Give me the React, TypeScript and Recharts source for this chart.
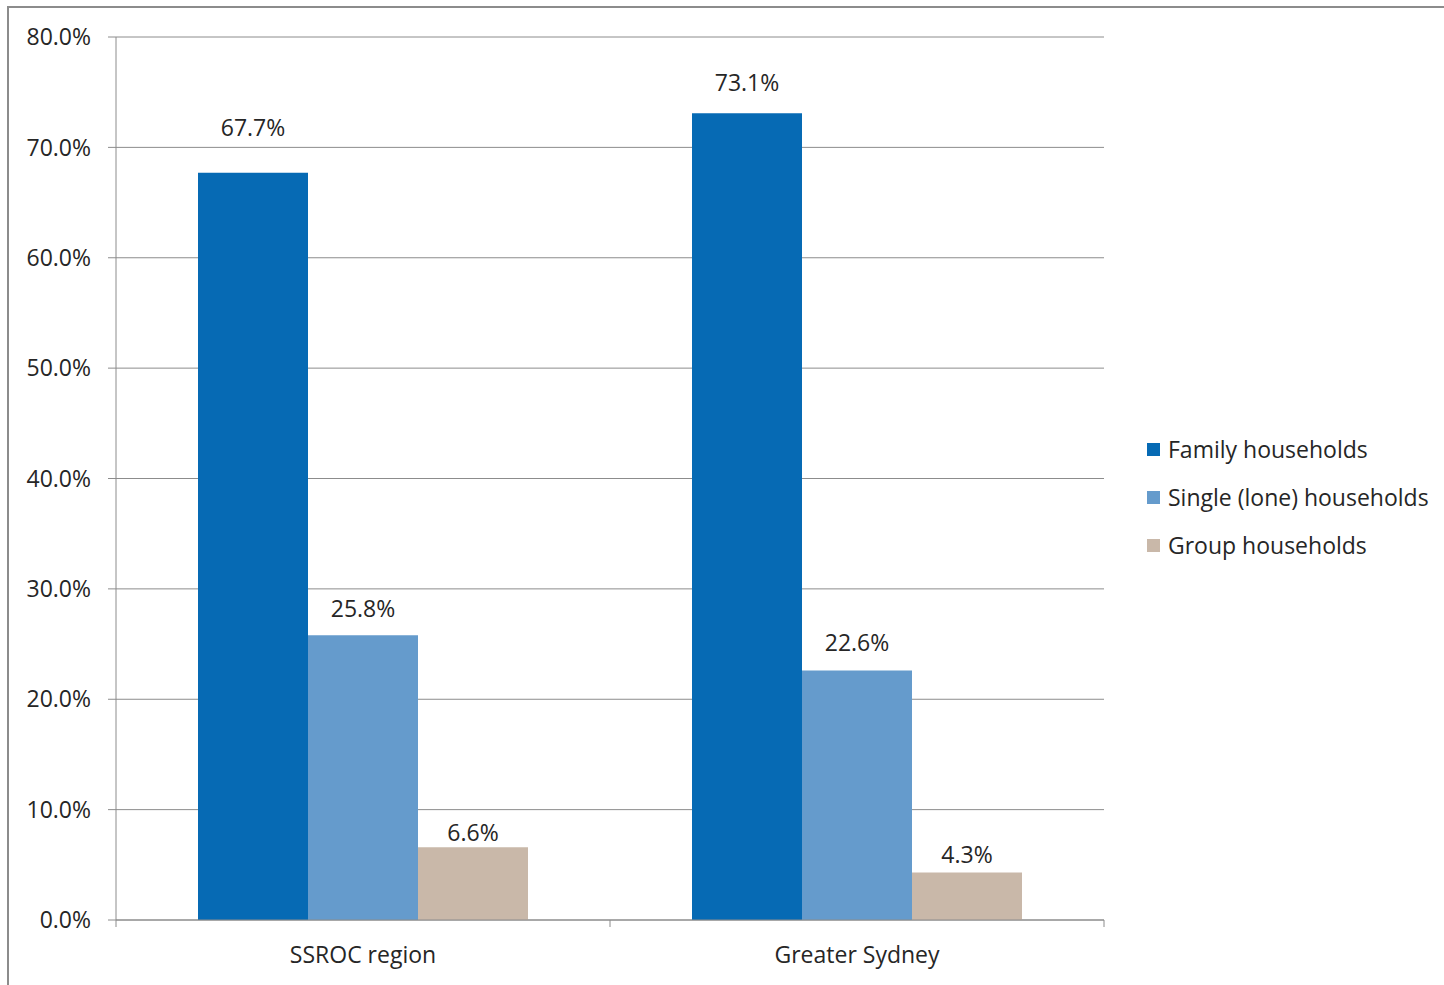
import { BarChart, Bar, XAxis, YAxis, CartesianGrid, LabelList } from "recharts";

// household composition, share of all households (%)
const regions = ["SSROC region", "Greater Sydney"];
const familyShare = [67.7, 73.1];
const singleShare = [25.8, 22.6];
const groupShare = [6.6, 4.3];
const yTicks = [0, 10, 20, 30, 40, 50, 60, 70, 80];

const data = regions.map((region, i) => ({
  region,
  family: familyShare[i],
  single: singleShare[i],
  group: groupShare[i],
}));

const FONT = "'Open Sans', sans-serif";
const TEXT = "#262626";
const RULE = "#8c8c8c";

const CHART_W = 1444;
const CHART_H = 985;
const MARGIN = { top: 37, right: 340, bottom: 0, left: 0 };
const Y_AXIS_W = 116;
const BAND = (CHART_W - MARGIN.right - MARGIN.left - Y_AXIS_W) / regions.length;

const series = [
  { key: "family", name: "Family households", color: "#066ab4", lift: [37, 22] },
  { key: "single", name: "Single (lone) households", color: "#659bcc", lift: [18, 20] },
  { key: "group", name: "Group households", color: "#c9b8a9", lift: [6, 10] },
];

function valueLabel(lift: number[]) {
  return (props: any) => {
    const { x, y, width, value, index } = props;
    return (
      <text
        x={Number(x) + Number(width) / 2}
        y={Number(y) - lift[index]}
        textAnchor="middle"
        fill={TEXT}
        fontSize={23}
        fontFamily={FONT}
      >
        {Number(value).toFixed(1)}%
      </text>
    );
  };
}

// category label plus the Excel-style tick marks on the band edges
function RegionTick(props: any) {
  const { x, y, payload, index } = props;
  const left = x - BAND / 2;
  const right = x + BAND / 2;
  return (
    <g>
      <line x1={left} x2={left} y1={y} y2={y + 7} stroke={RULE} />
      {index === regions.length - 1 && <line x1={right} x2={right} y1={y} y2={y + 7} stroke={RULE} />}
      <text x={x} y={y + 43} textAnchor="middle" fill={TEXT} fontSize={23} fontFamily={FONT}>
        {payload.value}
      </text>
    </g>
  );
}

function LegendBox() {
  return (
    <div style={{ position: "absolute", left: 1147, top: 425, fontFamily: FONT, fontSize: 23, color: TEXT }}>
      {series.map((s) => (
        <div key={s.key} style={{ display: "flex", alignItems: "center", height: 48, whiteSpace: "nowrap" }}>
          <span style={{ width: 13, height: 13, background: s.color, marginRight: 8 }} />
          <span>{s.name}</span>
        </div>
      ))}
    </div>
  );
}

export default function App() {
  return (
    <div style={{ position: "fixed", left: 0, top: 0, width: CHART_W, height: CHART_H, background: "#fff", overflow: "hidden" }}>
      <div
        style={{
          position: "absolute",
          left: 7,
          top: 6,
          width: 1500,
          height: 1100,
          borderTop: `2px solid ${RULE}`,
          borderLeft: `2px solid ${RULE}`,
        }}
      />
      <div style={{ position: "absolute", left: 0, top: 0 }}>
        <BarChart width={CHART_W} height={CHART_H} data={data} margin={MARGIN} barSize={110} barGap={0}>
          <CartesianGrid vertical={false} stroke={RULE} />
          <XAxis
            dataKey="region"
            height={65}
            axisLine={{ stroke: RULE }}
            tickLine={false}
            tickSize={0}
            tickMargin={0}
            interval={0}
            tick={<RegionTick />}
          />
          <YAxis
            width={Y_AXIS_W}
            domain={[0, 80]}
            ticks={yTicks}
            interval={0}
            tickSize={8}
            tickMargin={17}
            axisLine={{ stroke: RULE }}
            tickLine={{ stroke: RULE }}
            tick={{ fill: TEXT, fontSize: 23, fontFamily: FONT }}
            tickFormatter={(v) => `${Number(v).toFixed(1)}%`}
          />
          {series.map((s) => (
            <Bar key={s.key} dataKey={s.key} name={s.name} fill={s.color} isAnimationActive={false}>
              <LabelList dataKey={s.key} content={valueLabel(s.lift)} />
            </Bar>
          ))}
        </BarChart>
      </div>
      <LegendBox />
    </div>
  );
}
